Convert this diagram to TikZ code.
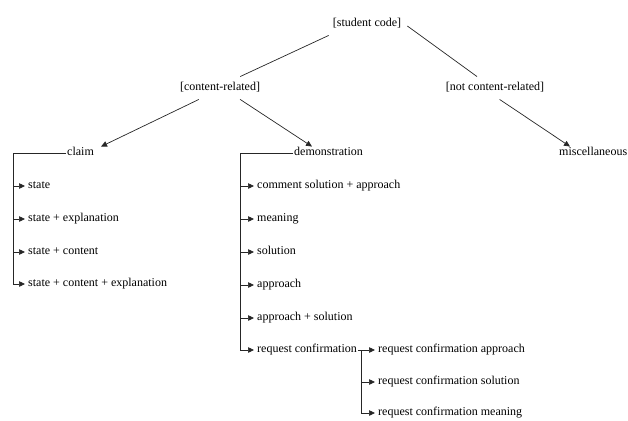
\documentclass[tikz,border=0pt]{standalone}
\usepackage{fontspec}
\setmainfont{Liberation Serif}
\usetikzlibrary{arrows.meta}
\begin{document}
\begin{tikzpicture}[x=1pt,y=-1pt,
  lbl/.style={font=\fontsize{12}{14}\selectfont, inner sep=1pt, text height=8pt, text depth=2.5pt},
  item/.style={lbl, anchor=west},
  conn/.style={line width=0.7pt, draw=black!85},
  arr/.style={conn, -{Triangle[length=6pt,width=5.5pt]}},
  iarr/.style={arr, shorten >=2pt}]
\useasboundingbox (0,0) rectangle (628,420);
% top levels
\node[lbl] (sc) at (367,24) {[student code]};
\node[lbl] (cr) at (220,88) {[content-related]};
\node[lbl] (ncr) at (495,88) {[not content-related]};
\node[item] (claim) at (66,153) {claim};
\node[item] (demo) at (293,153) {demonstration};
\node[item] (misc) at (558,153) {miscellaneous};
\draw[conn] ([xshift=-3pt,yshift=-5pt]sc.south west) -- ([xshift=-21pt,yshift=5pt]cr.north east);
\draw[conn] ([xshift=5pt,yshift=-2pt]sc.east) -- ([xshift=-18pt,yshift=5pt]ncr.north);
\draw[arr] ([xshift=20pt,yshift=-5pt]cr.south west) -- ([xshift=6pt]claim.north east);
\draw[arr] ([xshift=-21pt,yshift=-5pt]cr.south east) -- ([xshift=19pt]demo.north west);
\draw[arr] ([xshift=55pt,yshift=-5pt]ncr.south west) -- ([xshift=12pt]misc.north west);
% claim branch
\coordinate (cb) at (13,0);
\node[item] (s1) at (27,186) {state};
\node[item] (s2) at (27,219) {state + explanation};
\node[item] (s3) at (27,252) {state + content};
\node[item] (s4) at (27,284) {state + content + explanation};
\draw[conn] (claim.west) -| (s4.west -| cb);
\foreach \n in {s1,s2,s3,s4} \draw[iarr] (\n.west -| cb) -- (\n.west);
% demonstration branch
\coordinate (db) at (240,0);
\node[item] (d1) at (256,186) {comment solution + approach};
\node[item] (d2) at (256,219) {meaning};
\node[item] (d3) at (256,252) {solution};
\node[item] (d4) at (256,285) {approach};
\node[item] (d5) at (256,318) {approach + solution};
\node[item] (d6) at (256,350) {request confirmation};
\draw[conn] (demo.west) -| (d6.west -| db);
\foreach \n in {d1,d2,d3,d4,d5,d6} \draw[iarr] (\n.west -| db) -- (\n.west);
% request confirmation branch
\coordinate (rb) at (361,0);
\node[item] (r1) at (377,350) {request confirmation approach};
\node[item] (r2) at (377,382) {request confirmation solution};
\node[item] (r3) at (377,413) {request confirmation meaning};
\draw[iarr] (d6.east) -- (r1.west);
\draw[conn] (r1.west -| rb) -- (r3.west -| rb);
\foreach \n in {r2,r3} \draw[iarr] (\n.west -| rb) -- (\n.west);
\end{tikzpicture}
\end{document}
